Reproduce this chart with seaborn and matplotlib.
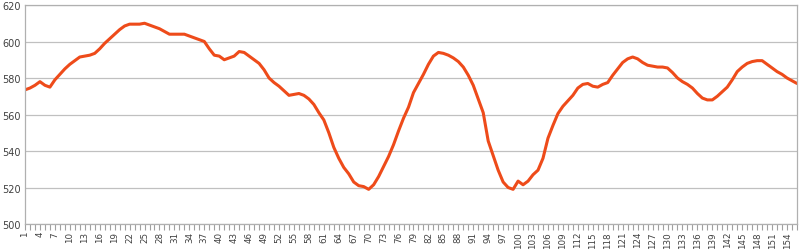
import matplotlib
matplotlib.use("Agg")
import matplotlib.pyplot as plt
import seaborn as sns
import pandas as pd
import numpy as np

categories = list(range(1, 157))
values = [
    573.5, 574.5, 576, 578, 576, 575, 579, 582, 585, 587.5,
    589.5, 591.5, 592, 592.5, 593.5, 596, 599, 601.5, 604, 606.5,
    608.5, 609.5, 609.5, 609.5, 610, 609, 608, 607, 605.5, 604,
    604, 604, 604, 603, 602, 601, 600, 596, 592.5, 592,
    590, 591, 592, 594.5, 594, 592, 590, 588, 584.5, 580,
    577.5, 575.5, 573, 570.5, 571, 571.5, 570.5, 568.5, 565.5, 561,
    557, 550, 542, 536, 531, 527.5, 523, 521, 520.5, 519,
    521.5, 526, 531.5, 537, 543.5, 551, 558, 564, 572, 577,
    582, 587.5, 592, 594, 593.5, 592.5, 591, 589, 586, 581.5,
    576, 568.5, 561, 545.5, 537.5, 529.5, 523, 520, 519, 523.5,
    521.5, 523.5, 527, 529.5, 536, 547, 554, 560.5, 564.5, 567.5,
    570.5, 574.5, 576.5, 577, 575.5, 575, 576.5, 577.5, 581.5, 585,
    588.5, 590.5, 591.5, 590.5, 588.5, 587, 586.5, 586, 586, 585.5,
    583, 580, 578, 576.5, 574.5, 571.5, 569, 568, 568, 570,
    572.5, 575, 579, 583.5, 586, 588, 589, 589.5, 589.5, 587.5,
    585.5, 583.5, 582, 580, 578.5, 577,
]
y_ticks = [500, 520, 540, 560, 580, 600, 620]

sns.set_style("white")
plt.rcParams['font.family'] = ['DejaVu Sans']

df = pd.DataFrame({"pos": np.arange(len(categories)), "value": values})

fig = plt.figure(figsize=(8.0, 2.51), dpi=100)
ax = fig.add_axes([25/800, 1 - 225/251, 772/800, 219/251])

sns.lineplot(data=df, x="pos", y="value", ax=ax, color="#EE4B1A", linewidth=2.2)

ax.set_xlim(0, len(categories) - 1)
ax.set_ylim(500, 620)
ax.set_yticks(y_ticks)
ax.set_yticklabels([str(t) for t in y_ticks], fontsize=7, color="#404040")
ax.yaxis.grid(True, color="#C0C0C0", linewidth=0.9)
ax.set_axisbelow(True)
ax.tick_params(axis="y", length=0, pad=3)

ax.set_xticks(np.arange(len(categories)), minor=True)
major_pos = np.arange(0, len(categories), 3)
ax.set_xticks(major_pos)
ax.set_xticklabels([str(categories[i]) for i in major_pos], rotation=90, fontsize=6.3, color="#404040")
ax.tick_params(axis="x", which="both", direction="out", length=4, width=0.8, color="#A0A0A0", pad=1, bottom=True)

for side in ["left", "bottom", "right", "top"]:
    ax.spines[side].set_visible(True)
    ax.spines[side].set_color("#B0B0B0")
    ax.spines[side].set_linewidth(0.9)

ax.set_xlabel("")
ax.set_ylabel("")

fig.savefig("out.png", dpi=100)
